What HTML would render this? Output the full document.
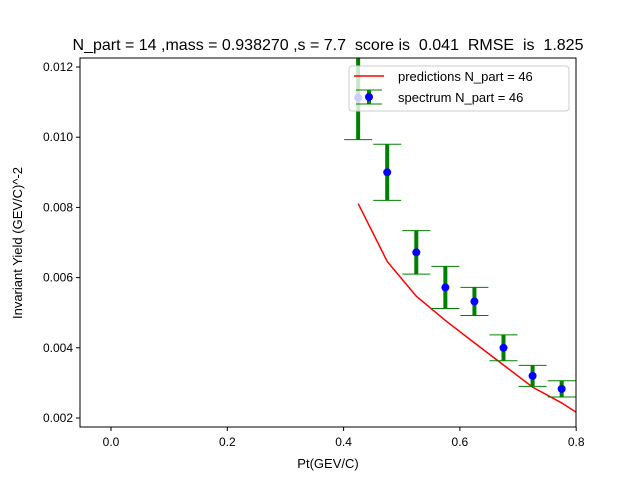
<!DOCTYPE html>
<html><head><meta charset="utf-8"><style>body{margin:0;background:#fff}svg{display:block;font-family:"Liberation Sans","DejaVu Sans",sans-serif}text{white-space:pre}</style></head>
<body>
<svg id="c" width="640" height="480" viewBox="0 0 640 480">
<defs><clipPath id="pa"><rect x="80" y="58" width="496" height="369"/></clipPath></defs>
<rect x="0" y="0" width="640" height="480" fill="#fff"/>
<g id="marks" clip-path="url(#pa)"></g>
<g id="axes"></g>
<rect x="80" y="58" width="496" height="369" fill="none" stroke="#000" stroke-width="1"/>
<text x="328" y="50" text-anchor="middle" font-size="16">N_part = 14 ,mass = 0.938270 ,s = 7.7  score is  0.041  RMSE  is  1.825</text>
<text x="328" y="468" text-anchor="middle" font-size="13">Pt(GEV/C)</text>
<text transform="translate(22,243) rotate(-90)" text-anchor="middle" font-size="13">Invariant Yield (GEV/C)^-2</text>
<g>
<rect x="349" y="66" width="220" height="45" rx="3" fill="#fff" fill-opacity="0.8" stroke="#ccc"/>
<line x1="354" y1="76" x2="384" y2="76" stroke="red" stroke-width="1.5"/>
<text x="398" y="81" font-size="13">predictions N_part = 46</text>
<line x1="369" y1="90" x2="369" y2="104" stroke="green" stroke-width="4"/>
<line x1="356" y1="90" x2="382" y2="90" stroke="green" stroke-width="1"/>
<line x1="356" y1="104" x2="382" y2="104" stroke="green" stroke-width="1"/>
<circle cx="369" cy="97" r="4" fill="blue"/>
<text x="398" y="102" font-size="13">spectrum N_part = 46</text>
</g>
</svg>
<script>
const ptValues=[0.425,0.475,0.525,0.575,0.625,0.675,0.725,0.775];
const yieldValues=[0.01113,0.0090,0.00672,0.00572,0.00532,0.0040,0.0032,0.00283];
const errValues=[0.0012,0.0008,0.00062,0.0006,0.0004,0.00037,0.0003,0.00023];
const predPt=[0.425,0.475,0.525,0.575,0.625,0.675,0.725,0.775,0.825];
const predValues=[0.00811,0.00646,0.00547,0.00478,0.00414,0.00351,0.00288,0.00243,0.0019];
const xTicks=["0.0","0.2","0.4","0.6","0.8"];
const yTicks=["0.002","0.004","0.006","0.008","0.010","0.012"];
const NS="http://www.w3.org/2000/svg";
const X=v=>111+v*581.5;
const Y=v=>418-(v-0.002)*35100;
function mk(t,a,p){const e=document.createElementNS(NS,t);for(const k in a)e.setAttribute(k,a[k]);p.appendChild(e);return e;}
const m=document.getElementById('marks'),ax=document.getElementById('axes');
let d=predPt.map((p,i)=>(i?'L':'M')+X(p)+','+Y(predValues[i])).join('');
const pl=mk('path',{d:d,fill:'none',stroke:'red','stroke-width':1.5},m);


ptValues.forEach((p,i)=>{
 const x=X(p),y0=Y(yieldValues[i]-errValues[i]),y1=Y(yieldValues[i]+errValues[i]);
 const g=mk('g',{},m);
 
 
 mk('line',{x1:x,y1:y0,x2:x,y2:y1,stroke:'green','stroke-width':4},g);
 mk('line',{x1:x-14,y1:y0,x2:x+14,y2:y0,stroke:'green','stroke-width':1},g);
 mk('line',{x1:x-14,y1:y1,x2:x+14,y2:y1,stroke:'green','stroke-width':1},g);
 const c=mk('circle',{cx:x,cy:Y(yieldValues[i]),r:4,fill:'blue'},m);
 
 
});
xTicks.forEach(t=>{const x=X(parseFloat(t));
 mk('line',{x1:x,y1:427,x2:x,y2:431,stroke:'#000'},ax);
 const tx=mk('text',{x:x,y:446,'text-anchor':'middle','font-size':12},ax);tx.textContent=t;
 
 
});
yTicks.forEach(t=>{const y=Y(parseFloat(t));
 mk('line',{x1:76,y1:y,x2:80,y2:y,stroke:'#000'},ax);
 const tx=mk('text',{x:73,y:y+4,'text-anchor':'end','font-size':12},ax);tx.textContent=t;
 
 
});
</script>
</body></html>
